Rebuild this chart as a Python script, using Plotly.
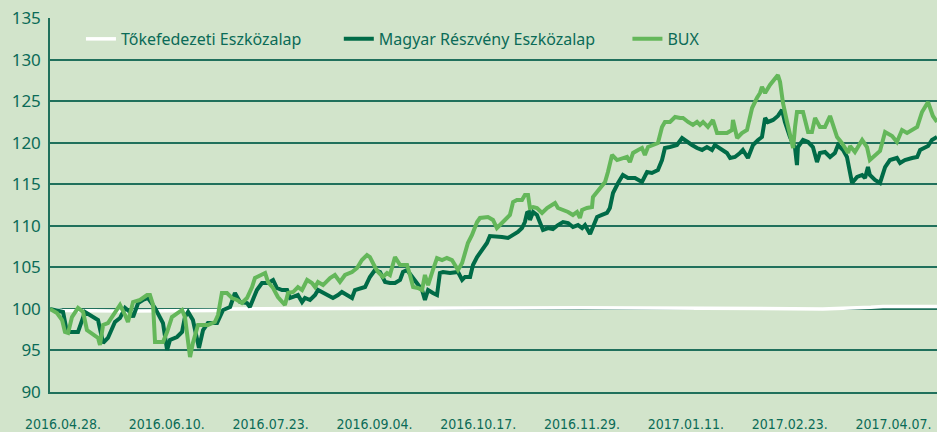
import pandas as pd
import plotly.graph_objects as go

start = pd.Timestamp("2016-04-28")

# Tőkefedezeti Eszközalap (days since start, index value)
tok_days = [0, 5, 30, 60, 70, 72, 100, 140, 180, 220, 260, 300, 320, 340, 345, 367.4]
tok_vals = [100.0, 99.8, 99.75, 99.75, 99.8, 100.0, 100.05, 100.05, 100.1, 100.15, 100.1, 99.95, 100.0, 100.2, 100.3, 100.3]

# Magyar Részvény Eszközalap
mre_days = [0, 5.4, 7.0, 11.6, 14.5, 19.9, 22.0, 24.0, 26.9, 29.0, 31.1, 33.1, 34.4, 36.5, 38.5, 40.6,
            43.5, 46.8, 48.5, 49.7, 52.6, 54.7, 55.9, 57.2, 59.2, 60.9, 61.7, 63.4, 65.4, 69.2, 70.4,
            71.7, 74.6, 76.6, 78.7, 81.6, 82.8, 85.7, 87.8, 90.3, 92.4, 94.0, 96.1, 98.2, 99.4, 100.7,
            102.7, 104.4, 105.6, 107.7, 109.8, 111.0, 113.1, 115.1, 117.2, 119.3, 120.9, 123.0, 125.1,
            126.3, 128.4, 130.5, 132.5, 134.6, 136.7, 138.8, 140.8, 142.9, 145.0, 146.2, 147.9, 149.9,
            152.0, 154.1, 155.3, 156.6, 158.6, 160.3, 161.5, 162.8, 165.7, 169.0, 170.7, 171.9, 174.0,
            175.2, 176.9, 178.9, 181.0, 182.2, 184.3, 187.2, 189.7, 191.8, 193.8, 195.5, 196.7, 197.6,
            198.4, 198.8, 200.1, 201.7, 203.0, 204.2, 206.3, 208.3, 210.4, 212.5, 214.6, 216.6, 218.7,
            220.4, 221.6, 223.7, 224.9, 226.6, 228.6, 230.7, 231.9, 233.2, 235.3, 237.3, 239.4, 242.3,
            245.2, 247.3, 249.3, 251.8, 253.5, 254.7, 256.8, 259.7, 261.8, 263.8, 265.9, 268.0, 270.1,
            272.1, 274.2, 275.4, 277.5, 280.4, 281.7, 283.7, 285.8, 287.0, 289.1, 291.2, 293.3, 294.9,
            296.2, 297.4, 299.5, 301.5, 303.2, 304.4, 306.5, 308.6, 309.4, 309.8, 311.9, 314.0, 316.0,
            317.7, 318.9, 321.0, 323.1, 325.1, 326.4, 328.5, 330.1, 332.2, 334.3, 336.4, 337.6, 338.8,
            339.6, 341.7, 343.8, 345.9, 347.9, 350.8, 352.1, 354.1, 357.1, 359.2, 360.4, 362.4, 363.7,
            365.3, 367.4]
mre_vals = [100.0, 99.63, 97.22, 97.22, 99.63, 98.66, 95.90, 96.50, 98.42, 98.90, 100.11, 99.63, 99.02,
            100.71, 101.07, 101.31, 100.11, 98.30, 95.05, 96.26, 96.62, 97.22, 99.02, 99.63, 98.66, 96.50,
            95.30, 97.46, 98.30, 98.30, 99.02, 99.87, 100.23, 101.91, 100.83, 100.71, 100.23, 102.27,
            103.12, 103.12, 103.48, 102.51, 102.27, 102.27, 101.31, 101.43, 101.67, 100.83, 101.31,
            101.07, 101.67, 102.27, 101.91, 101.67, 101.31, 101.67, 102.03, 101.67, 101.31, 102.27,
            102.51, 102.63, 103.84, 104.68, 104.44, 103.24, 103.12, 103.12, 103.48, 104.44, 104.68,
            103.84, 103.12, 102.27, 101.07, 102.27, 101.91, 101.67, 104.32, 104.44, 104.32, 104.44,
            103.48, 103.84, 103.84, 105.28, 106.24, 107.09, 107.93, 108.77, 108.77, 108.65, 108.53,
            108.89, 109.25, 109.73, 110.45, 111.54, 111.66, 110.70, 111.66, 111.30, 110.45, 109.49,
            109.73, 109.61, 110.09, 110.45, 110.33, 109.85, 110.09, 109.73, 110.09, 109.01, 109.85,
            111.06, 111.30, 111.54, 112.14, 113.94, 115.15, 116.11, 115.75, 115.75, 115.27, 116.47,
            116.35, 116.71, 117.91, 119.36, 119.48, 119.72, 120.56, 120.08, 119.72, 119.36, 119.12,
            119.48, 119.12, 119.72, 119.36, 118.76, 118.16, 118.28, 118.76, 119.12, 118.16, 119.72,
            120.32, 120.68, 122.97, 122.49, 122.73, 123.21, 123.93, 122.49, 120.68, 119.36, 117.31,
            119.48, 120.32, 120.08, 119.48, 117.67, 118.76, 118.88, 118.28, 118.76, 119.72, 119.12,
            118.28, 115.15, 115.87, 116.11, 115.75, 117.07, 116.11, 115.51, 115.15, 117.07, 117.91,
            118.16, 117.55, 117.91, 118.16, 118.28, 119.12, 119.48, 119.60, 120.32, 120.68]

# BUX
bux_days = [0, 2.9, 5.0, 6.2, 7.5, 9.1, 11.6, 13.7, 15.3, 17.8, 19.9, 20.7, 22.0, 24.0, 26.9, 29.0, 31.1,
            32.3, 34.4, 37.3, 40.2, 41.4, 42.7, 43.5, 46.8, 48.5, 50.5, 52.6, 54.7, 55.9, 57.2, 58.0,
            59.2, 61.3, 65.4, 68.3, 69.6, 71.2, 73.3, 75.4, 77.5, 79.5, 81.6, 83.7, 84.9, 87.0, 89.1,
            90.3, 92.4, 94.4, 97.3, 98.6, 100.7, 102.7, 104.4, 106.5, 108.5, 109.8, 111.0, 113.1, 116.0,
            118.0, 120.1, 122.2, 125.1, 127.2, 129.2, 131.3, 132.5, 134.6, 135.9, 137.9, 139.6, 140.8,
            142.9, 145.0, 147.9, 149.1, 150.4, 152.4, 154.1, 155.3, 156.6, 158.6, 160.3, 162.4, 164.4,
            166.5, 167.8, 169.0, 170.7, 171.9, 173.1, 174.8, 176.9, 178.1, 180.2, 181.4, 183.5, 185.1,
            187.2, 189.3, 190.5, 191.8, 193.4, 195.5, 196.7, 198.0, 198.8, 200.1, 201.7, 203.8, 205.9,
            207.9, 209.2, 210.4, 212.5, 214.6, 216.6, 218.3, 219.5, 220.4, 222.4, 224.5, 224.9, 226.6,
            228.6, 229.9, 231.1, 232.8, 234.9, 237.3, 239.0, 240.2, 241.5, 243.6, 245.2, 246.4, 247.7,
            249.8, 251.8, 253.5, 254.7, 256.8, 258.9, 261.0, 262.2, 264.3, 266.3, 268.0, 269.2, 270.5,
            272.5, 274.6, 276.3, 278.3, 280.4, 282.5, 282.9, 284.6, 286.6, 288.7, 290.8, 292.8, 294.1,
            294.9, 296.2, 298.2, 300.3, 301.5, 302.4, 303.6, 305.3, 307.8, 308.6, 309.4, 311.9, 314.0,
            315.6, 316.9, 318.9, 321.0, 323.1, 326.0, 328.0, 330.6, 331.4, 333.4, 336.4, 338.4, 339.6,
            341.7, 343.8, 345.9, 348.8, 350.8, 352.9, 355.0, 359.2, 361.2, 363.7, 365.7, 367.4]
bux_vals = [100.0, 99.51, 98.66, 97.22, 97.10, 99.02, 100.11, 99.63, 97.46, 96.86, 96.50, 95.66, 98.06,
            98.30, 99.51, 100.47, 99.27, 98.42, 100.83, 101.07, 101.67, 101.67, 100.47, 96.02, 96.02,
            97.22, 99.02, 99.51, 99.87, 99.02, 95.42, 94.21, 95.90, 98.06, 98.06, 98.42, 99.27, 101.91,
            101.91, 101.31, 101.07, 100.71, 101.31, 102.63, 103.72, 104.08, 104.32, 103.24, 102.51,
            101.43, 100.47, 101.91, 102.03, 102.63, 102.27, 103.48, 103.12, 102.63, 103.24, 102.87,
            103.72, 104.08, 103.24, 104.08, 104.44, 104.92, 105.88, 106.48, 106.24, 105.04, 104.44,
            103.84, 104.32, 104.08, 106.24, 105.28, 105.28, 104.08, 102.63, 102.51, 102.27, 104.08,
            102.87, 104.68, 106.12, 105.88, 106.12, 105.88, 105.28, 104.68, 105.52, 106.72, 107.93,
            108.89, 110.45, 110.94, 110.94, 111.06, 110.70, 109.73, 110.33, 110.94, 111.30, 112.86,
            113.10, 113.10, 113.70, 113.70, 112.14, 112.26, 112.14, 111.54, 112.14, 112.50, 112.74,
            112.14, 111.90, 111.66, 111.30, 111.66, 110.94, 111.90, 112.14, 112.26, 113.46, 114.06,
            114.67, 115.27, 116.47, 118.52, 117.91, 118.16, 118.28, 117.67, 118.76, 119.12, 119.36,
            118.52, 119.48, 119.72, 119.96, 121.89, 122.49, 122.49, 123.09, 122.97, 122.97, 122.49,
            122.13, 122.49, 122.13, 122.49, 121.89, 122.73, 121.16, 121.16, 121.16, 121.52, 122.73,
            120.56, 121.16, 121.52, 124.17, 125.37, 125.98, 126.70, 125.98, 126.94, 127.78, 128.14,
            127.30, 124.77, 122.49, 119.36, 121.89, 123.69, 123.69, 121.28, 121.28, 122.97, 121.89,
            121.89, 123.21, 120.68, 119.96, 118.76, 119.60, 118.88, 120.32, 119.48, 117.91, 118.52,
            119.00, 121.28, 120.80, 120.08, 121.52, 121.16, 121.89, 123.69, 124.89, 123.21, 122.49]

tick_days = [0, 43, 86, 129, 172, 215, 258, 301, 344]
y_ticks = [90, 95, 100, 105, 110, 115, 120, 125, 130, 135]


def to_dates(days):
    return start + pd.to_timedelta(days, unit="D")


BG = "#d2e4cb"
TXT = "#0b6b57"
GRID = "#20705c"
DARK = "#006b47"
LIGHT = "#64b75a"

fig = go.Figure()
fig.add_trace(go.Scatter(x=to_dates(tok_days), y=tok_vals, mode="lines", name="Tőkefedezeti Eszközalap",
                         line=dict(color="#ffffff", width=3.5), legend="legend"))
fig.add_trace(go.Scatter(x=to_dates(mre_days), y=mre_vals, mode="lines", name="Magyar Részvény Eszközalap",
                         line=dict(color=DARK, width=4), legend="legend2"))
fig.add_trace(go.Scatter(x=to_dates(bux_days), y=bux_vals, mode="lines", name="BUX",
                         line=dict(color=LIGHT, width=4), legend="legend3"))

leg_common = dict(orientation="h", yanchor="middle", y=0.944, xanchor="left",
                  bgcolor="rgba(0,0,0,0)", font=dict(family="Noto Sans", size=16, color=TXT))

fig.update_layout(
    width=937, height=432,
    margin=dict(l=50, r=0, t=18, b=40),
    paper_bgcolor=BG, plot_bgcolor=BG,
    showlegend=True,
    legend=dict(x=0.0349, **leg_common),
    legend2=dict(x=0.3256, **leg_common),
    legend3=dict(x=0.651, **leg_common),
    xaxis=dict(
        range=[start, start + pd.Timedelta(days=367.4)],
        tickvals=to_dates(tick_days), tickformat="%Y.%m.%d.",
        showgrid=False, zeroline=False,
        showline=True, linecolor=GRID, linewidth=1.5,
        ticks="", ticklabelstandoff=18, ticklabelshift=13,
        tickfont=dict(family="DejaVu Sans Condensed, sans-serif", size=14, color=TXT),
    ),
    yaxis=dict(
        range=[90, 135], tickvals=y_ticks,
        showgrid=True, gridcolor=GRID, gridwidth=1.5,
        zeroline=False,
        showline=True, linecolor=GRID, linewidth=1.5,
        ticks="", ticklabelstandoff=4,
        tickfont=dict(family="Noto Sans", size=17, color=TXT),
    ),
)

fig.write_html("out.html")
